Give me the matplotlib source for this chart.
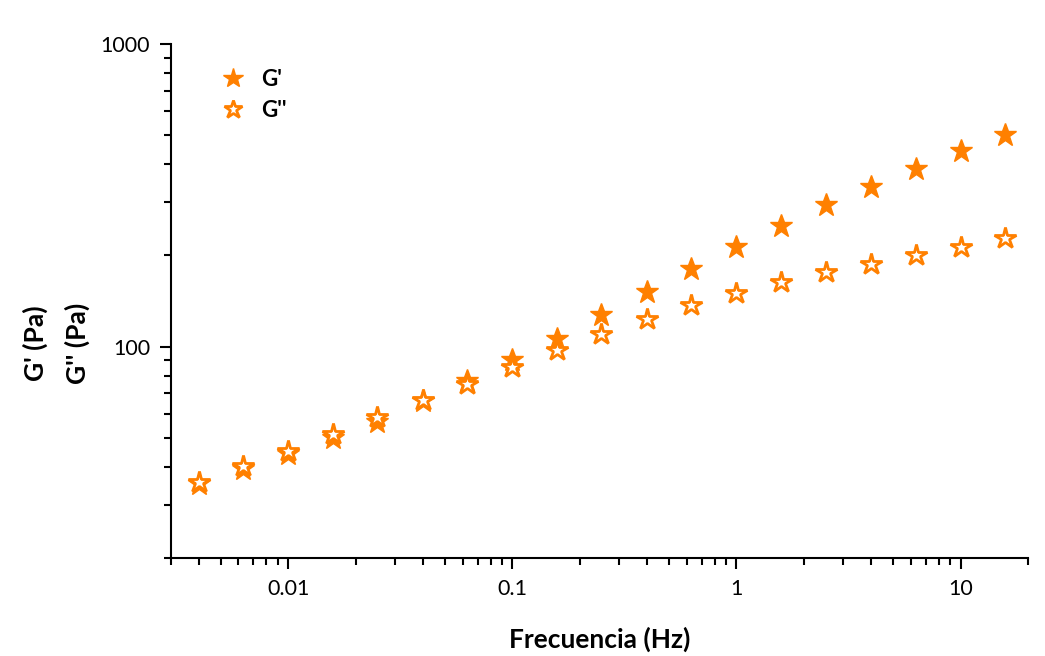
import numpy as np
import matplotlib
matplotlib.use("Agg")
import matplotlib.pyplot as plt
from matplotlib.ticker import LogLocator, FixedLocator, NullFormatter

plt.rcParams['font.family'] = ['Lato', 'DejaVu Sans']

freq = [0.004, 0.0063, 0.01, 0.0158, 0.025, 0.04, 0.063, 0.1, 0.158, 0.25,
        0.4, 0.63, 1.0, 1.58, 2.5, 4.0, 6.3, 10.0, 15.8]
g_storage = [35.2, 39.4, 44.3, 50.0, 56.5, 66.3, 77.2, 90.6, 106.3, 127.6,
             152, 180, 213, 250, 293, 336, 385, 442, 500]
g_loss = [35.7, 40.3, 45.3, 51.2, 58.7, 66.7, 75.4, 85.8, 97.7, 110,
          123, 137, 150, 163, 176, 188, 200, 213, 228]

orange = '#FF8000'

fig = plt.figure(figsize=(10.45, 6.56), dpi=100)
ax = fig.add_axes([0.1636, 0.1494, 0.8201, 0.7835])

ax.plot(freq, g_storage, linestyle='none', marker='*', ms=17,
        color=orange, mec=orange, label="G'")
ax.plot(freq, g_loss, linestyle='none', marker='*', ms=16,
        mfc='white', mec=orange, mew=2, label="G''")

ax.set_xscale('log')
ax.set_yscale('log')
ax.set_xlim(0.003, 20)
ax.set_ylim(20, 1000)

ax.xaxis.set_major_locator(FixedLocator([0.01, 0.1, 1, 10]))
ax.set_xticklabels(['0.01', '0.1', '1', '10'])
ax.xaxis.set_minor_locator(LogLocator(base=10, subs=np.arange(2, 10)))
ax.xaxis.set_minor_formatter(NullFormatter())
ax.yaxis.set_major_locator(FixedLocator([100, 1000]))
ax.set_yticklabels(['100', '1000'])
ax.yaxis.set_minor_locator(LogLocator(base=10, subs=np.arange(2, 10)))
ax.yaxis.set_minor_formatter(NullFormatter())

for s in ['top', 'right']:
    ax.spines[s].set_visible(False)
for s in ['left', 'bottom']:
    ax.spines[s].set_linewidth(1.5)
ax.tick_params(which='major', direction='out', length=8, width=1.5,
               labelsize=15.5, pad=7)
ax.tick_params(which='minor', direction='out', length=5, width=1.5)

ax.set_xlabel('Frecuencia (Hz)', fontsize=19, fontweight='bold', labelpad=20)
fig.text(0.034, 0.477, "G' (Pa)", rotation=90, ha='center', va='center',
         fontsize=19, fontweight='bold')
fig.text(0.074, 0.477, "G'' (Pa)", rotation=90, ha='center', va='center',
         fontsize=19, fontweight='bold')

leg = ax.legend(loc='upper left', bbox_to_anchor=(0.03, 0.99), frameon=False,
                prop={'weight': 'bold', 'size': 16}, handletextpad=0.5,
                labelspacing=0.45, numpoints=1, markerscale=0.85,
                handlelength=1.5)

fig.savefig('out.png', dpi=100, facecolor='white')
